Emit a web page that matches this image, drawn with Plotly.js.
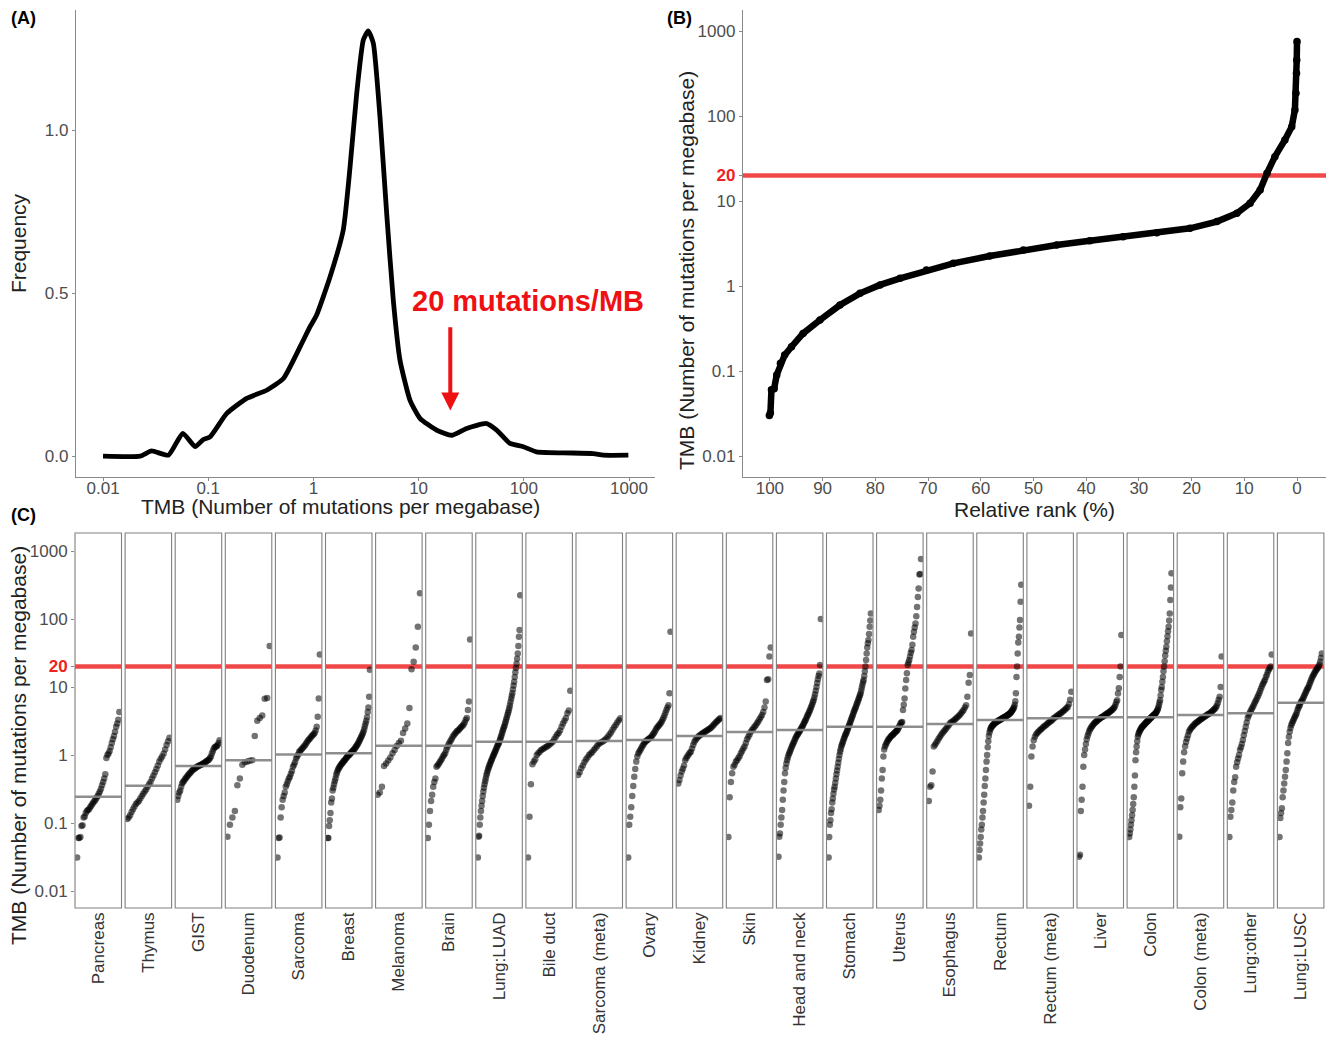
<!DOCTYPE html>
<html><head><meta charset="utf-8">
<script src="https://cdn.plot.ly/plotly-3.0.1.min.js"></script>
<style>html,body{margin:0;padding:0;background:#fff;}#chart{width:1326px;height:1044px;}</style>
</head><body><div id="chart"></div>
<script>
// ---------- Panel A: density of TMB ----------
const densityTMB = [0.01,0.0225,0.029,0.0418,0.0573,0.075,0.0898,0.104,0.15,0.232,0.36,0.518,0.746,0.929,1.07,1.44,1.92,2.23,2.58,2.98,3.32,3.71,4.29,4.97,5.74,6.65,8.27,10.3,14.8,20.6,28.6,44.4,55.2,73.9,98.9,132,237,458,570,986];
const densityFreq = [0,0,0.016,0.003,0.07,0.029,0.051,0.059,0.131,0.177,0.202,0.238,0.335,0.397,0.432,0.55,0.693,0.887,1.113,1.276,1.304,1.266,1.041,0.744,0.479,0.294,0.172,0.116,0.080,0.064,0.085,0.100,0.080,0.039,0.029,0.013,0.010,0.008,0.003,0.003];

// ---------- Panel B: TMB vs relative rank ----------
const rankPct = [100.1,99.9,99.7,99.2,98.7,98.0,97.2,95.9,93.7,90.5,86.7,82.9,79.1,75.3,70.3,65.2,58.3,51.9,45.6,39.3,33.0,26.6,20.3,15.2,11.4,8.9,7.0,5.7,4.2,2.3,1.0,0.4,0.2,0.1,0.05,0.0];
const rankTMB = [0.030,0.032,0.06,0.062,0.09,0.123,0.154,0.193,0.277,0.398,0.597,0.82,1.03,1.23,1.54,1.85,2.25,2.65,3.04,3.41,3.8,4.24,4.77,5.72,7.17,9.4,13.5,21.2,33.2,52.2,74.9,118,185,318,456,750];
const threshold = 20;

// ---------- Panel C: per cancer type ----------
const cancerTypes = ['Pancreas','Thymus','GIST','Duodenum','Sarcoma','Breast','Melanoma','Brain','Lung:LUAD','Bile duct','Sarcoma (meta)','Ovary','Kidney','Skin','Head and neck','Stomach','Uterus','Esophagus','Rectum','Rectum (meta)','Liver','Colon','Colon (meta)','Lung:other','Lung:LUSC'];
const cancerMedians = [0.244,0.354,0.69,0.84,1.02,1.06,1.37,1.37,1.57,1.57,1.61,1.66,1.9,2.18,2.33,2.6,2.6,2.86,3.27,3.46,3.58,3.58,3.87,4.1,5.88];

const tmbPancreas = [0.031,0.06,0.06,0.062,0.09,0.093,0.12,0.125,0.14,0.15,0.155,0.16,0.17,0.18,0.19,0.2,0.21,0.22,0.235,0.25,0.27,0.29,0.32,0.36,0.4,0.45,0.52,0.9,1.0,1.05,1.15,1.3,1.5,1.7,1.9,2.2,2.6,2.9,3.3,4.3];
const tmbThymus = [0.115,0.12,0.13,0.145,0.16,0.175,0.19,0.2,0.21,0.23,0.25,0.27,0.29,0.31,0.34,0.37,0.4,0.45,0.5,0.56,0.62,0.7,0.8,0.88,0.95,1.05,1.2,1.4,1.6,1.8];
const tmbGIST = [0.22,0.25,0.28,0.3,0.34,0.38,0.4,0.42,0.44,0.46,0.48,0.5,0.52,0.54,0.56,0.58,0.6,0.62,0.63,0.65,0.66,0.68,0.69,0.7,0.71,0.72,0.74,0.75,0.76,0.78,0.8,0.82,0.84,0.86,0.9,0.95,1.05,1.15,1.25,1.3,1.33,1.35,1.4,1.5,1.65];
const tmbDuodenum = [0.063,0.094,0.12,0.15,0.36,0.45,0.72,0.78,0.8,0.82,0.84,1.9,3.2,3.5,3.8,6.7,6.9,40];
const tmbSarcoma = [0.031,0.06,0.061,0.12,0.17,0.22,0.25,0.28,0.34,0.37,0.41,0.45,0.48,0.53,0.58,0.67,0.72,0.78,0.89,0.95,1.02,1.12,1.15,1.2,1.25,1.3,1.36,1.42,1.5,1.58,1.66,1.72,1.8,1.88,1.95,2.02,2.1,2.3,2.6,3.66,6.8,30];
const tmbBreast = [0.06,0.06,0.09,0.11,0.14,0.2,0.23,0.3,0.33,0.37,0.41,0.45,0.51,0.55,0.59,0.62,0.65,0.68,0.7,0.73,0.75,0.77,0.8,0.82,0.84,0.87,0.9,0.93,0.96,0.98,1.0,1.03,1.06,1.09,1.12,1.15,1.18,1.21,1.25,1.3,1.34,1.39,1.45,1.52,1.6,1.68,1.77,1.85,1.95,2.07,2.2,2.4,2.65,2.9,3.2,3.6,4.3,5.0,7.2,18];
const tmbMelanoma = [0.26,0.28,0.34,0.69,0.75,0.83,0.92,1.06,1.18,1.36,1.5,1.62,2.1,2.46,2.9,4.9,18.3,23.6,38,77,240];
const tmbBrain = [0.06,0.094,0.15,0.21,0.26,0.34,0.4,0.45,0.67,0.7,0.74,0.78,0.83,0.88,0.95,1.0,1.06,1.18,1.3,1.42,1.52,1.62,1.72,1.86,1.96,2.05,2.15,2.25,2.3,2.4,2.5,2.6,2.7,2.8,3.0,3.3,3.5,4.6,6.1,50];
const tmbLungLUAD = [0.031,0.063,0.065,0.094,0.12,0.15,0.18,0.21,0.25,0.29,0.33,0.37,0.41,0.45,0.5,0.54,0.58,0.62,0.66,0.7,0.74,0.78,0.82,0.86,0.91,0.96,1.0,1.05,1.1,1.16,1.22,1.28,1.34,1.4,1.46,1.52,1.62,1.72,1.84,1.96,2.1,2.25,2.4,2.55,2.7,2.9,3.1,3.35,3.6,3.9,4.2,4.5,4.9,5.4,6.0,6.7,7.4,8.1,9.2,10.5,12,14,16.5,19,22,26,31,40,55,69,224];
const tmbBileDuct = [0.031,0.124,0.37,0.73,0.8,0.86,1.0,1.06,1.12,1.18,1.22,1.26,1.3,1.33,1.38,1.44,1.5,1.57,1.7,1.85,2.0,2.1,2.3,2.6,2.9,3.2,3.5,4.1,4.5,8.8];
const tmbSarcomaMeta = [0.51,0.56,0.64,0.7,0.78,0.86,0.92,1.0,1.05,1.1,1.18,1.26,1.35,1.44,1.5,1.56,1.6,1.66,1.75,1.86,2.0,2.15,2.35,2.55,2.76,3.0,3.25,3.46];
const tmbOvary = [0.031,0.094,0.124,0.17,0.25,0.35,0.48,0.62,0.8,0.95,1.05,1.12,1.18,1.26,1.34,1.42,1.5,1.57,1.62,1.66,1.7,1.75,1.8,1.86,1.95,2.05,2.15,2.3,2.46,2.56,2.66,2.78,2.9,3.05,3.27,3.5,3.8,4.2,4.6,5.0,5.4,8.1,65];
const tmbKidney = [0.38,0.43,0.5,0.57,0.63,0.7,0.84,0.9,0.96,1.02,1.08,1.12,1.25,1.4,1.55,1.66,1.75,1.83,1.9,1.96,2.02,2.08,2.13,2.18,2.24,2.3,2.36,2.42,2.48,2.56,2.66,2.78,2.9,3.02,3.14,3.27,3.38,3.5];
const tmbSkin = [0.062,0.24,0.4,0.54,0.67,0.72,0.8,0.84,0.9,0.96,1.06,1.15,1.25,1.33,1.5,1.7,1.86,2.0,2.2,2.33,2.45,2.6,2.75,2.92,3.1,3.35,3.6,3.87,4.3,5.0,6.1,12.7,13,28,38];
const tmbHeadNeck = [0.032,0.063,0.07,0.094,0.12,0.155,0.22,0.3,0.4,0.54,0.65,0.75,0.84,0.92,1.0,1.06,1.13,1.2,1.28,1.36,1.44,1.52,1.6,1.7,1.8,1.88,1.96,2.04,2.12,2.2,2.3,2.4,2.5,2.6,2.72,2.86,3.0,3.15,3.3,3.5,3.7,3.9,4.1,4.35,4.6,4.9,5.2,5.6,6.0,6.4,7.0,7.8,8.8,10,11.5,13,14.5,15.8,21,100];
const tmbStomach = [0.031,0.062,0.094,0.11,0.14,0.16,0.2,0.23,0.27,0.31,0.34,0.39,0.45,0.52,0.59,0.67,0.77,0.88,1.0,1.12,1.22,1.33,1.42,1.5,1.6,1.7,1.8,1.9,2.0,2.08,2.2,2.32,2.45,2.6,2.75,2.9,3.05,3.27,3.45,3.65,3.85,4.1,4.35,4.6,4.85,5.1,5.4,5.7,6.0,6.4,6.8,7.2,7.6,8.1,8.9,9.8,10.8,11.8,12.7,14.5,17,20,25,31,38,44,49,60,77,95,121];
const tmbUterus = [0.155,0.18,0.22,0.3,0.45,0.6,0.95,1.2,1.33,1.42,1.5,1.58,1.66,1.72,1.78,1.84,1.9,1.95,1.99,2.04,2.1,2.16,2.22,2.28,2.33,2.45,2.6,2.75,2.92,3.0,3.05,4.6,5.5,6.8,9.5,12.7,16,21,23,25,28,32,35,42,55,65,75,86,110,150,210,280,450,460,760];
const tmbEsophagus = [0.21,0.34,0.36,0.57,1.33,1.42,1.52,1.62,1.75,1.86,1.98,2.1,2.22,2.33,2.45,2.6,2.75,2.92,3.02,3.12,3.22,3.32,3.46,3.6,3.75,3.9,4.1,4.35,4.6,5.0,5.4,7.2,11.6,15,61];
const tmbRectum = [0.031,0.04,0.05,0.062,0.08,0.094,0.12,0.15,0.2,0.26,0.35,0.45,0.6,0.8,1.0,1.3,1.6,1.9,2.15,2.33,2.45,2.55,2.63,2.7,2.76,2.82,2.88,2.94,2.98,3.02,3.06,3.1,3.14,3.18,3.22,3.26,3.3,3.34,3.38,3.42,3.46,3.5,3.54,3.58,3.62,3.66,3.7,3.75,3.8,3.86,3.92,3.98,4.05,4.12,4.2,4.3,4.42,4.55,4.7,4.86,5.1,5.5,6.2,8.1,14,20,31,45,55,75,97,180,320];
const tmbRectumMeta = [0.18,0.34,0.95,1.33,1.65,1.86,2.0,2.1,2.2,2.3,2.38,2.46,2.55,2.64,2.72,2.82,2.92,3.0,3.1,3.2,3.3,3.46,3.56,3.66,3.78,3.9,4.02,4.1,4.25,4.4,4.55,4.7,4.9,5.1,5.6,6.5,8.5];
const tmbLiver = [0.032,0.034,0.15,0.22,0.34,0.67,1.0,1.2,1.45,1.7,1.9,2.08,2.25,2.4,2.52,2.62,2.72,2.84,2.92,3.0,3.08,3.16,3.24,3.32,3.4,3.48,3.56,3.62,3.66,3.74,3.82,3.9,3.98,4.06,4.14,4.22,4.3,4.4,4.5,4.6,4.75,4.9,5.1,5.5,6.0,6.4,8,9.6,14,20,58];
const tmbColon = [0.062,0.07,0.08,0.094,0.11,0.13,0.155,0.19,0.24,0.34,0.5,0.84,1.1,1.33,1.6,1.86,2.0,2.12,2.22,2.32,2.4,2.48,2.55,2.6,2.66,2.72,2.78,2.84,2.9,2.96,3.02,3.08,3.14,3.2,3.27,3.33,3.4,3.47,3.54,3.6,3.67,3.74,3.81,3.88,3.95,4.02,4.1,4.2,4.35,4.5,4.7,5.0,5.4,5.9,6.4,7.5,9,10,12,14,17,20,24,29,34,39,47,56,66,77,95,121,190,290,470];
const tmbColonMeta = [0.063,0.17,0.23,0.54,0.8,1.1,1.35,1.55,1.75,1.95,2.2,2.33,2.45,2.55,2.65,2.75,2.85,2.92,3.0,3.08,3.16,3.24,3.32,3.4,3.46,3.55,3.64,3.73,3.82,3.9,3.98,4.06,4.15,4.25,4.35,4.5,4.65,4.8,5.0,5.3,5.8,6.5,7.2,10,28];
const tmbLungOther = [0.062,0.124,0.155,0.2,0.3,0.4,0.47,0.67,0.78,0.89,1.0,1.18,1.3,1.45,1.66,1.95,2.25,2.6,3.0,3.5,3.8,4.1,4.4,4.7,5.0,5.3,5.7,6.1,6.5,7.0,7.5,8.1,8.8,9.6,10.4,11.2,12,12.7,14,15.2,16.8,18,19,20,30];
const tmbLungLUSC = [0.062,0.118,0.14,0.165,0.24,0.3,0.38,0.48,0.6,0.8,1.06,1.5,1.85,2.2,2.5,2.75,2.92,3.1,3.3,3.5,3.7,3.9,4.2,4.6,4.9,5.2,5.5,5.9,6.2,6.4,6.8,7.2,7.6,8.1,8.6,9.1,9.6,10,10.8,11.6,12.4,13.2,14,14.8,15.6,16.4,17.2,17.8,18.5,19.2,20,21.5,23.6,27,31];

const panelValues = [tmbPancreas,tmbThymus,tmbGIST,tmbDuodenum,tmbSarcoma,tmbBreast,tmbMelanoma,tmbBrain,tmbLungLUAD,tmbBileDuct,tmbSarcomaMeta,tmbOvary,tmbKidney,tmbSkin,tmbHeadNeck,tmbStomach,tmbUterus,tmbEsophagus,tmbRectum,tmbRectumMeta,tmbLiver,tmbColon,tmbColonMeta,tmbLungOther,tmbLungLUSC];

const logTicks = [0.01,0.1,1,10,20,100,1000];

// ---------- drawing ----------
const W = 1326, H = 1044;
const fx = p => p / W, fy = p => 1 - p / H;
const FAM = 'Liberation Sans, Arial, sans-serif';
const tickFont = {family: FAM, size: 17, color: '#4d4d4d'};
const titleFont = {family: FAM, size: 21, color: '#222'};
const axisGrey = '#8a8a8a';
const redLine = '#f04848';
const redText = '#ee1111';
const redTick = '<b><span style="color:#ee2222">20</span></b>';
const logTickText = logTicks.map(v => v === threshold ? redTick : String(v));

const traces = [];
traces.push({type:'scatter', mode:'lines', x: densityTMB, y: densityFreq, xaxis:'x', yaxis:'y',
  line:{color:'#000', width:4.8, shape:'spline', smoothing:0.5}, hoverinfo:'skip'});
traces.push({type:'scatter', mode:'lines+markers', x: rankPct, y: rankTMB, xaxis:'x2', yaxis:'y2',
  line:{color:'#000', width:6.5}, marker:{color:'#000', size:7.5}, hoverinfo:'skip'});

const shapes = [];
shapes.push({type:'line', xref:'x2 domain', yref:'y2', x0:0, x1:1, y0:threshold, y1:threshold, layer:'below', line:{color:redLine, width:4.5}});

const layout = {
  width: W, height: H, margin:{l:0, r:0, t:0, b:0},
  paper_bgcolor:'#fff', plot_bgcolor:'rgba(0,0,0,0)', showlegend:false, hovermode:false,
  font:{family: FAM},
  xaxis:{domain:[fx(76), fx(655)], anchor:'y', type:'log', range:[-2.257, 3.247],
    tickvals:[0.01,0.1,1,10,100,1000], ticktext:['0.01','0.1','1','10','100','1000'],
    ticks:'outside', ticklen:3, tickcolor:axisGrey, showline:true, linecolor:axisGrey, linewidth:1.2,
    ticklabelstandoff:-8,
    showgrid:false, zeroline:false, tickfont:tickFont},
  yaxis:{domain:[fy(477), fy(10)], anchor:'x', range:[-0.064, 1.368],
    tickvals:[0,0.5,1], ticktext:['0.0','0.5','1.0'],
    ticks:'outside', ticklen:3, tickcolor:axisGrey, showline:true, linecolor:axisGrey, linewidth:1.2,
    showgrid:false, zeroline:false, tickfont:tickFont,
    title:{text:'Frequency', font:titleFont, standoff:12}},
  xaxis2:{domain:[fx(743), 1], anchor:'y2', range:[105.1, -5.5],
    tickvals:[100,90,80,70,60,50,40,30,20,10,0],
    ticks:'outside', ticklen:3, tickcolor:axisGrey, showline:true, linecolor:axisGrey, linewidth:1.2,
    ticklabelstandoff:-8,
    showgrid:false, zeroline:false, tickfont:tickFont,
    title:{text:'Relative rank (%)', font:titleFont, standoff:0}},
  yaxis2:{domain:[fy(477), fy(10)], anchor:'x2', type:'log', range:[-2.247, 3.247],
    tickvals:logTicks, ticktext:logTickText,
    ticks:'outside', ticklen:3, tickcolor:axisGrey, showline:true, linecolor:axisGrey, linewidth:1.2,
    showgrid:false, zeroline:false, tickfont:tickFont},
  yaxis3:{domain:[fy(908), fy(533)], anchor:'x3', type:'log', range:[-2.25, 3.265],
    tickvals:logTicks, ticktext:logTickText,
    ticks:'outside', ticklen:3, tickcolor:axisGrey, showline:false,
    showgrid:false, zeroline:false, tickfont:tickFont},
  annotations:[
    {text:'<b>(A)</b>', xref:'paper', yref:'paper', x:fx(9), y:fy(18), xanchor:'left', yanchor:'middle', showarrow:false, font:{family:FAM, size:18, color:'#000'}},
    {text:'<b>(B)</b>', xref:'paper', yref:'paper', x:fx(665), y:fy(18), xanchor:'left', yanchor:'middle', showarrow:false, font:{family:FAM, size:18, color:'#000'}},
    {text:'<b>(C)</b>', xref:'paper', yref:'paper', x:fx(9), y:fy(515), xanchor:'left', yanchor:'middle', showarrow:false, font:{family:FAM, size:18, color:'#000'}},
    {text:'TMB (Number of mutations per megabase)', xref:'paper', yref:'paper', x:fx(341), y:fy(506), xanchor:'center', yanchor:'middle', showarrow:false, font:titleFont},
    {text:'TMB (Number of mutations per megabase)', xref:'paper', yref:'paper', x:fx(686), y:fy(271), textangle:-90, xanchor:'center', yanchor:'middle', showarrow:false, font:titleFont},
    {text:'TMB (Number of mutations per megabase)', xref:'paper', yref:'paper', x:fx(18), y:fy(746), textangle:-90, xanchor:'center', yanchor:'middle', showarrow:false, font:titleFont},
    {text:'<b>20 mutations/MB</b>', xref:'x', yref:'y', x:2.04, y:0.475, xanchor:'center', yanchor:'middle', showarrow:false, font:{family:FAM, size:29, color:redText}},
    {text:'', xref:'x', yref:'y', axref:'x', ayref:'y', x:Math.log10(threshold), y:0.14, ax:Math.log10(threshold), ay:0.40,
     showarrow:true, arrowhead:2, arrowsize:0.9, arrowwidth:4, arrowcolor:redText}
  ],
  shapes: shapes
};

panelValues.forEach((vals, i) => {
  const ax = 'x' + (3 + i);
  const n = vals.length;
  const ranks = vals.map((_, j) => n > 1 ? j / (n - 1) : 0.5);
  traces.push({type:'scatter', mode:'markers', x: ranks, y: vals, xaxis: ax, yaxis:'y3',
    marker:{color:'rgba(0,0,0,0.55)', size:6.5}, hoverinfo:'skip'});
  const left = 75 + i * 50.1;
  layout['xaxis' + (3 + i)] = {domain:[fx(left), fx(left + 46.5)], anchor:'y3', range:[-0.05, 1.05],
    showgrid:false, zeroline:false, showline:false, ticks:'', tickvals:[0.5], ticktext:[cancerTypes[i]],
    tickangle:-90, tickfont:{family:FAM, size:17, color:'#333'}};
  shapes.push({type:'line', xref: ax + ' domain', yref:'y3', x0:0, x1:1, y0:threshold, y1:threshold, layer:'below', line:{color:redLine, width:4.5}});
  shapes.push({type:'line', xref: ax + ' domain', yref:'y3', x0:0, x1:1, y0:cancerMedians[i], y1:cancerMedians[i], layer:'above', line:{color:'rgba(130,130,130,0.9)', width:2.5}});
  shapes.push({type:'rect', xref: ax + ' domain', yref:'y3 domain', x0:0, x1:1, y0:0, y1:1, layer:'above', fillcolor:'rgba(0,0,0,0)', line:{color:'#808080', width:1.1}});
});

traces.forEach(t => t.showlegend = false);
Plotly.newPlot('chart', traces, layout, {staticPlot:true, displayModeBar:false});
</script>
</body></html>
